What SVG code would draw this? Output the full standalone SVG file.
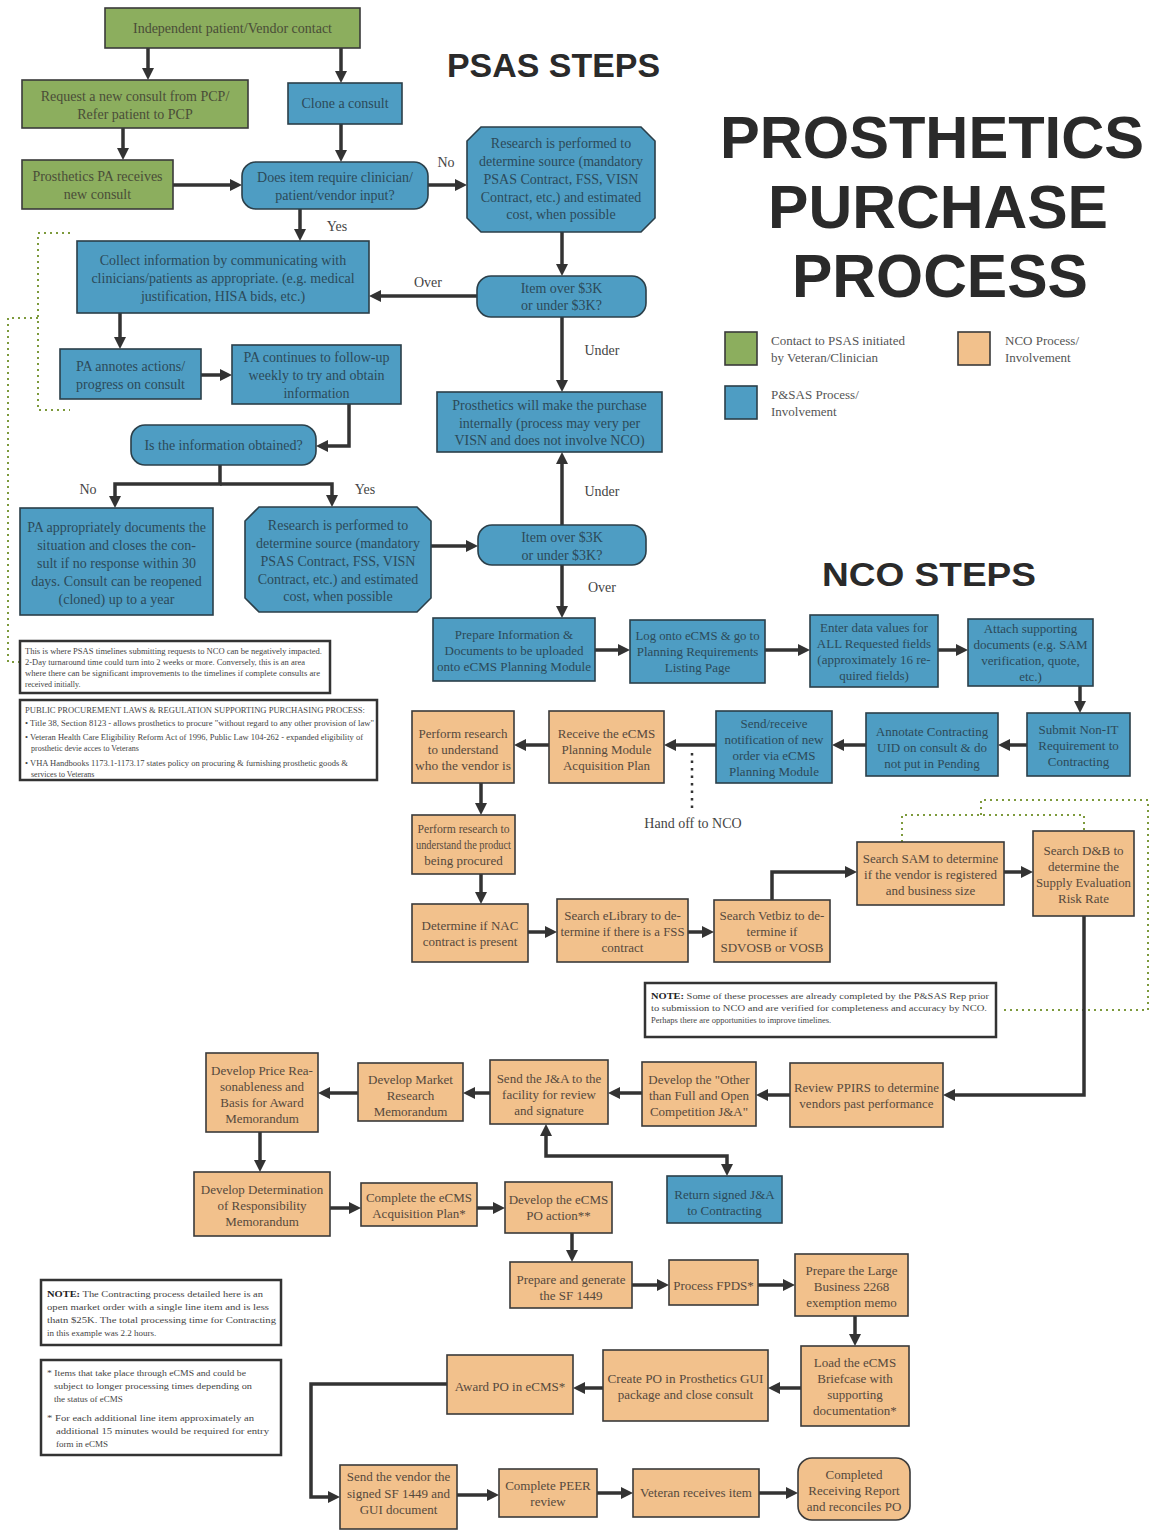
<svg xmlns="http://www.w3.org/2000/svg" width="1151" height="1532" viewBox="0 0 1151 1532">
<style>
.g{fill:#8CAE5E;stroke:#3a3a3a;stroke-width:1.6}
.b{fill:#4E9DC3;stroke:#2b3f49;stroke-width:1.6}
.t{fill:#F2C18C;stroke:#3a3a3a;stroke-width:1.6}
.ts{font-family:"Liberation Serif",serif;font-size:14px;text-anchor:middle}
.tn{font-family:"Liberation Serif",serif;font-size:13px;text-anchor:middle}
.cg{fill:#4a4d38}
.cb{fill:#2c4a59}
.ct{fill:#56493c}
.lbl{font-family:"Liberation Serif",serif;font-size:14px;fill:#444;text-anchor:middle}
.ttl{font-family:"Liberation Sans",Arial,sans-serif;font-weight:900;fill:#2a2a2a}
.note{fill:#fff;stroke:#333;stroke-width:2.5}
.nt{font-family:"Liberation Serif",serif;fill:#444}
.leg{font-family:"Liberation Serif",serif;font-size:13px;fill:#555}
.c{fill:none;stroke:#333;stroke-width:3.5;marker-end:url(#ah)}
.dot{fill:none;stroke:#7d9a3c;stroke-width:2;stroke-dasharray:2 4}
</style>
<defs>
<marker id="ah" viewBox="0 0 12 12" refX="8" refY="6" markerWidth="12" markerHeight="12" markerUnits="userSpaceOnUse" orient="auto-start-reverse"><path d="M0,0 L12,6 L0,12 z" fill="#333"/></marker>
</defs>
<rect width="1151" height="1532" fill="#fff"/>

<!-- Titles -->
<g id="titles">
<text class="ttl" x="447" y="77" font-size="33" textLength="213" lengthAdjust="spacingAndGlyphs">PSAS STEPS</text>
<text class="ttl" x="822" y="586" font-size="33" textLength="214" lengthAdjust="spacingAndGlyphs">NCO STEPS</text>
<text class="ttl" x="720" y="158" font-size="59" textLength="424" lengthAdjust="spacingAndGlyphs">PROSTHETICS</text>
<text class="ttl" x="768" y="228" font-size="61" textLength="340" lengthAdjust="spacingAndGlyphs">PURCHASE</text>
<text class="ttl" x="792" y="297" font-size="61" textLength="296" lengthAdjust="spacingAndGlyphs">PROCESS</text>
</g>

<!-- Legend -->
<g id="legend">
<rect class="g" x="725" y="332" width="32" height="33"/>
<text class="leg" x="771" y="345">Contact to PSAS initiated</text>
<text class="leg" x="771" y="362">by Veteran/Clinician</text>
<rect class="t" x="958" y="332" width="32" height="33"/>
<text class="leg" x="1005" y="345">NCO Process/</text>
<text class="leg" x="1005" y="362">Involvement</text>
<rect class="b" x="725" y="386" width="32" height="33"/>
<text class="leg" x="771" y="399">P&amp;SAS Process/</text>
<text class="leg" x="771" y="416">Involvement</text>
</g>

<!-- Annotation dotted lines -->
<g id="annotations">
<path class="dot" d="M70,233 H38 V410 H70"/>
<path class="dot" d="M38,318 H8 V662 H20"/>
<path class="dot" d="M981,815 V800 H1148 V1010 H1000"/>
<path class="dot" d="M902,842 V815 H1084 V831"/>
</g>

<!-- Connectors -->
<g id="connectors">
<path class="c" d="M148,48 V76"/>
<path class="c" d="M341,48 V79"/>
<path class="c" d="M123,128 V156"/>
<path class="c" d="M341,124 V158"/>
<path class="c" d="M173,185 H238"/>
<path class="c" d="M428,185 H463"/>
<path class="c" d="M562,232 V272"/>
<path class="c" d="M477,296 H373"/>
<path class="c" d="M562,317 V388"/>
<path class="c" d="M300,209 V237"/>
<path class="c" d="M120,313 V345"/>
<path class="c" d="M201,375 H228"/>
<path class="c" d="M349,404 V446 H320"/>
<path class="c" d="M220,465 V484 H115 V504"/>
<path class="c" d="M220,484 H332 V503"/>
<path class="c" d="M431,546 H474"/>
<path class="c" d="M562,525 V456"/>
<path class="c" d="M562,565 V614"/>

<path class="c" d="M595,650 H626"/>
<path class="c" d="M765,650 H806"/>
<path class="c" d="M938,650 H964"/>
<path class="c" d="M1080,686 V709"/>
<path class="c" d="M1027,745 H1002"/>
<path class="c" d="M866,745 H836"/>
<path class="c" d="M716,745 H668"/>
<path class="c" d="M549,745 H518"/>
<path d="M692,753 V812" fill="none" stroke="#333" stroke-width="2.5" stroke-dasharray="2.5 5"/>
<path class="c" d="M481,783 V811"/>
<path class="c" d="M481,874 V900"/>
<path class="c" d="M528,932 H553"/>
<path class="c" d="M688,932 H710"/>
<path class="c" d="M772,900 V872 H853"/>
<path class="c" d="M1004,872 H1029"/>
<path class="c" d="M1084,916 V1095 H947"/>
<path class="c" d="M790,1095 H760"/>
<path class="c" d="M642,1093 H612"/>
<path class="c" d="M490,1093 H467"/>
<path class="c" d="M358,1093 H322"/>
<path class="c" d="M260,1132 V1168"/>
<path class="c" d="M546,1128 V1156 H727 V1172" marker-start="url(#ah)"/>
<path class="c" d="M330,1208 H357"/>
<path class="c" d="M477,1208 H501"/>
<path class="c" d="M572,1233 V1258"/>
<path class="c" d="M632,1285 H665"/>
<path class="c" d="M758,1285 H791"/>
<path class="c" d="M855,1316 V1342"/>
<path class="c" d="M801,1388 H772"/>
<path class="c" d="M603,1388 H577"/>
<path class="c" d="M447,1384 H311 V1497 H336"/>
<path class="c" d="M457,1495 H495"/>
<path class="c" d="M597,1493 H629"/>
<path class="c" d="M759,1493 H794"/>
</g>

<!-- Connector labels -->
<g id="labels">
<text class="lbl" x="446" y="167">No</text>
<text class="lbl" x="337" y="231">Yes</text>
<text class="lbl" x="428" y="287">Over</text>
<text class="lbl" x="602" y="355">Under</text>
<text class="lbl" x="88" y="494">No</text>
<text class="lbl" x="365" y="494">Yes</text>
<text class="lbl" x="602" y="496">Under</text>
<text class="lbl" x="602" y="592">Over</text>
<text class="lbl" x="693" y="828" font-size="13">Hand off to NCO</text>
</g>

<!-- PSAS nodes -->
<g id="n1"><rect class="g" x="105" y="8" width="255" height="40"/><text class="ts cg" x="232.5" y="33">Independent patient/Vendor contact</text></g>
<g id="n2"><rect class="g" x="22" y="80" width="226" height="48"/><text class="ts cg" x="135" y="101">Request a new consult from PCP/</text><text class="ts cg" x="135" y="119">Refer patient to PCP</text></g>
<g id="n3"><rect class="b" x="288" y="83" width="114" height="41"/><text class="ts cb" x="345" y="108">Clone a consult</text></g>
<g id="n4"><rect class="g" x="22" y="160" width="151" height="49"/><text class="ts cg" x="97.5" y="181">Prosthetics PA receives</text><text class="ts cg" x="97.5" y="199">new consult</text></g>
<g id="n5"><rect class="b" x="242" y="162" width="186" height="47" rx="14"/><text class="ts cb" x="335" y="182">Does item require clinician/</text><text class="ts cb" x="335" y="200">patient/vendor input?</text></g>
<g id="n6"><polygon class="b" points="481,127 641,127 655,141 655,218 641,232 481,232 467,218 467,141"/>
<text class="ts cb" x="561" y="148">Research is performed to</text><text class="ts cb" x="561" y="166">determine source (mandatory</text><text class="ts cb" x="561" y="184">PSAS Contract, FSS, VISN</text><text class="ts cb" x="561" y="202">Contract, etc.) and estimated</text><text class="ts cb" x="561" y="219">cost, when possible</text></g>
<g id="n7"><rect class="b" x="477" y="276" width="169" height="41" rx="14"/><text class="ts cb" x="561.5" y="293">Item over $3K</text><text class="ts cb" x="561.5" y="310">or under $3K?</text></g>
<g id="n8"><rect class="b" x="437" y="392" width="225" height="60"/><text class="ts cb" x="549.5" y="410">Prosthetics will make the purchase</text><text class="ts cb" x="549.5" y="428">internally (process may very per</text><text class="ts cb" x="549.5" y="445">VISN and does not involve NCO)</text></g>
<g id="n9"><rect class="b" x="77" y="241" width="292" height="72"/><text class="ts cb" x="223" y="265">Collect information by communicating with</text><text class="ts cb" x="223" y="283">clinicians/patients as appropriate. (e.g. medical</text><text class="ts cb" x="223" y="301">justification, HISA bids, etc.)</text></g>
<g id="n10"><rect class="b" x="60" y="349" width="141" height="50"/><text class="ts cb" x="130.5" y="371">PA annotes actions/</text><text class="ts cb" x="130.5" y="389">progress on consult</text></g>
<g id="n11"><rect class="b" x="232" y="345" width="169" height="59"/><text class="ts cb" x="316.5" y="362">PA continues to follow-up</text><text class="ts cb" x="316.5" y="380">weekly to try and obtain</text><text class="ts cb" x="316.5" y="398">information</text></g>
<g id="n12"><rect class="b" x="131" y="425" width="185" height="40" rx="14"/><text class="ts cb" x="223.5" y="450">Is the information obtained?</text></g>
<g id="n13"><rect class="b" x="20" y="508" width="193" height="107"/><text class="ts cb" x="116.5" y="532">PA appropriately documents the</text><text class="ts cb" x="116.5" y="550">situation and closes the con-</text><text class="ts cb" x="116.5" y="568">sult if no response within 30</text><text class="ts cb" x="116.5" y="586">days. Consult can be reopened</text><text class="ts cb" x="116.5" y="604">(cloned) up to a year</text></g>
<g id="n14"><polygon class="b" points="259,507 417,507 431,521 431,598 417,612 259,612 245,598 245,521"/>
<text class="ts cb" x="338" y="530">Research is performed to</text><text class="ts cb" x="338" y="548">determine source (mandatory</text><text class="ts cb" x="338" y="566">PSAS Contract, FSS, VISN</text><text class="ts cb" x="338" y="584">Contract, etc.) and estimated</text><text class="ts cb" x="338" y="601">cost, when possible</text></g>
<g id="n15"><rect class="b" x="478" y="525" width="168" height="40" rx="14"/><text class="ts cb" x="562" y="542">Item over $3K</text><text class="ts cb" x="562" y="560">or under $3K?</text></g>

<!-- NCO nodes -->
<g id="n16"><rect class="b" x="433" y="618" width="162" height="63"/><text class="tn cb" x="514" y="639">Prepare Information &amp;</text><text class="tn cb" x="514" y="655">Documents to be uploaded</text><text class="tn cb" x="514" y="671" textLength="154" lengthAdjust="spacingAndGlyphs">onto eCMS Planning Module</text></g>
<g id="n17"><rect class="b" x="630" y="620" width="135" height="63"/><text class="tn cb" x="697.5" y="640" textLength="124" lengthAdjust="spacingAndGlyphs">Log onto eCMS &amp; go to</text><text class="tn cb" x="697.5" y="656">Planning Requirements</text><text class="tn cb" x="697.5" y="672">Listing Page</text></g>
<g id="n18"><rect class="b" x="810" y="615" width="128" height="72"/><text class="tn cb" x="874" y="632">Enter data values for</text><text class="tn cb" x="874" y="648">ALL Requested fields</text><text class="tn cb" x="874" y="664">(approximately 16 re-</text><text class="tn cb" x="874" y="680">quired fields)</text></g>
<g id="n19"><rect class="b" x="968" y="619" width="125" height="67"/><text class="tn cb" x="1030.5" y="633">Attach supporting</text><text class="tn cb" x="1030.5" y="649">documents (e.g. SAM</text><text class="tn cb" x="1030.5" y="665">verification, quote,</text><text class="tn cb" x="1030.5" y="681">etc.)</text></g>
<g id="n20"><rect class="b" x="1027" y="713" width="103" height="63"/><text class="tn cb" x="1078.5" y="734">Submit Non-IT</text><text class="tn cb" x="1078.5" y="750">Requirement to</text><text class="tn cb" x="1078.5" y="766">Contracting</text></g>
<g id="n21"><rect class="b" x="866" y="713" width="132" height="63"/><text class="tn cb" x="932" y="736">Annotate Contracting</text><text class="tn cb" x="932" y="752">UID on consult &amp; do</text><text class="tn cb" x="932" y="768">not put in Pending</text></g>
<g id="n22"><rect class="b" x="716" y="711" width="116" height="72"/><text class="tn cb" x="774" y="728">Send/receive</text><text class="tn cb" x="774" y="744">notification of new</text><text class="tn cb" x="774" y="760">order via eCMS</text><text class="tn cb" x="774" y="776">Planning Module</text></g>
<g id="n23"><rect class="t" x="549" y="711" width="115" height="72"/><text class="tn ct" x="606.5" y="738">Receive the eCMS</text><text class="tn ct" x="606.5" y="754">Planning Module</text><text class="tn ct" x="606.5" y="770">Acquisition Plan</text></g>
<g id="n24"><rect class="t" x="412" y="711" width="102" height="72"/><text class="tn ct" x="463" y="738">Perform research</text><text class="tn ct" x="463" y="754">to understand</text><text class="tn ct" x="463" y="770" textLength="96" lengthAdjust="spacingAndGlyphs">who the vendor is</text></g>
<g id="n25"><rect class="t" x="412" y="815" width="103" height="59"/><text class="tn ct" x="463.5" y="833" textLength="92" lengthAdjust="spacingAndGlyphs">Perform research to</text><text class="tn ct" x="463.5" y="849" textLength="95" lengthAdjust="spacingAndGlyphs">understand the product</text><text class="tn ct" x="463.5" y="865">being procured</text></g>
<g id="n26"><rect class="t" x="412" y="904" width="116" height="58"/><text class="tn ct" x="470" y="930">Determine if NAC</text><text class="tn ct" x="470" y="946">contract is present</text></g>
<g id="n27"><rect class="t" x="557" y="899" width="131" height="63"/><text class="tn ct" x="622.5" y="920">Search eLibrary to de-</text><text class="tn ct" x="622.5" y="936" textLength="124" lengthAdjust="spacingAndGlyphs">termine if there is a FSS</text><text class="tn ct" x="622.5" y="952">contract</text></g>
<g id="n28"><rect class="t" x="714" y="900" width="116" height="62"/><text class="tn ct" x="772" y="920">Search Vetbiz to de-</text><text class="tn ct" x="772" y="936">termine if</text><text class="tn ct" x="772" y="952">SDVOSB or VOSB</text></g>
<g id="n29"><rect class="t" x="857" y="842" width="147" height="63"/><text class="tn ct" x="930.5" y="863">Search SAM to determine</text><text class="tn ct" x="930.5" y="879">if the vendor is registered</text><text class="tn ct" x="930.5" y="895">and business size</text></g>
<g id="n30"><rect class="t" x="1033" y="831" width="101" height="85"/><text class="tn ct" x="1083.5" y="855">Search D&amp;B to</text><text class="tn ct" x="1083.5" y="871">determine the</text><text class="tn ct" x="1083.5" y="887" textLength="95" lengthAdjust="spacingAndGlyphs">Supply Evaluation</text><text class="tn ct" x="1083.5" y="903">Risk Rate</text></g>
<g id="n31"><rect class="t" x="790" y="1063" width="153" height="64"/><text class="tn ct" x="866.5" y="1092" textLength="145" lengthAdjust="spacingAndGlyphs">Review PPIRS to determine</text><text class="tn ct" x="866.5" y="1108">vendors past performance</text></g>
<g id="n32"><rect class="t" x="642" y="1062" width="114" height="64"/><text class="tn ct" x="699" y="1084">Develop the "Other</text><text class="tn ct" x="699" y="1100">than Full and Open</text><text class="tn ct" x="699" y="1116">Competition J&amp;A"</text></g>
<g id="n33"><rect class="t" x="490" y="1060" width="118" height="64"/><text class="tn ct" x="549" y="1083">Send the J&amp;A to the</text><text class="tn ct" x="549" y="1099">facility for review</text><text class="tn ct" x="549" y="1115">and signature</text></g>
<g id="n34"><rect class="t" x="358" y="1063" width="105" height="58"/><text class="tn ct" x="410.5" y="1084">Develop Market</text><text class="tn ct" x="410.5" y="1100">Research</text><text class="tn ct" x="410.5" y="1116">Memorandum</text></g>
<g id="n35"><rect class="t" x="206" y="1053" width="112" height="79"/><text class="tn ct" x="262" y="1075">Develop Price Rea-</text><text class="tn ct" x="262" y="1091">sonableness and</text><text class="tn ct" x="262" y="1107">Basis for Award</text><text class="tn ct" x="262" y="1123">Memorandum</text></g>
<g id="n36"><rect class="t" x="194" y="1172" width="136" height="64"/><text class="tn ct" x="262" y="1194">Develop Determination</text><text class="tn ct" x="262" y="1210">of Responsibility</text><text class="tn ct" x="262" y="1226">Memorandum</text></g>
<g id="n37"><rect class="t" x="361" y="1183" width="116" height="43"/><text class="tn ct" x="419" y="1202">Complete the eCMS</text><text class="tn ct" x="419" y="1218">Acquisition Plan*</text></g>
<g id="n38"><rect class="t" x="505" y="1182" width="107" height="51"/><text class="tn ct" x="558.5" y="1204">Develop the eCMS</text><text class="tn ct" x="558.5" y="1220">PO action**</text></g>
<g id="n39"><rect class="b" x="667" y="1176" width="115" height="47"/><text class="tn cb" x="724.5" y="1199">Return signed J&amp;A</text><text class="tn cb" x="724.5" y="1215">to Contracting</text></g>
<g id="n40"><rect class="t" x="510" y="1262" width="122" height="46"/><text class="tn ct" x="571" y="1284">Prepare and generate</text><text class="tn ct" x="571" y="1300">the SF 1449</text></g>
<g id="n41"><rect class="t" x="669" y="1260" width="89" height="45"/><text class="tn ct" x="713.5" y="1290">Process FPDS*</text></g>
<g id="n42"><rect class="t" x="795" y="1254" width="113" height="62"/><text class="tn ct" x="851.5" y="1275">Prepare the Large</text><text class="tn ct" x="851.5" y="1291">Business 2268</text><text class="tn ct" x="851.5" y="1307">exemption memo</text></g>
<g id="n43"><rect class="t" x="801" y="1346" width="108" height="80"/><text class="tn ct" x="855" y="1367">Load the eCMS</text><text class="tn ct" x="855" y="1383">Briefcase with</text><text class="tn ct" x="855" y="1399">supporting</text><text class="tn ct" x="855" y="1415">documentation*</text></g>
<g id="n44"><rect class="t" x="603" y="1350" width="165" height="71"/><text class="tn ct" x="685.5" y="1383" textLength="156" lengthAdjust="spacingAndGlyphs">Create PO in Prosthetics GUI</text><text class="tn ct" x="685.5" y="1399">package and close consult</text></g>
<g id="n45"><rect class="t" x="447" y="1355" width="126" height="59"/><text class="tn ct" x="510" y="1391">Award PO in eCMS*</text></g>
<g id="n46"><rect class="t" x="340" y="1465" width="117" height="64"/><text class="tn ct" x="398.5" y="1481">Send the vendor the</text><text class="tn ct" x="398.5" y="1498">signed SF 1449 and</text><text class="tn ct" x="398.5" y="1514">GUI document</text></g>
<g id="n47"><rect class="t" x="499" y="1469" width="98" height="48"/><text class="tn ct" x="548" y="1490">Complete PEER</text><text class="tn ct" x="548" y="1506">review</text></g>
<g id="n48"><rect class="t" x="633" y="1469" width="126" height="48"/><text class="tn ct" x="696" y="1497">Veteran receives item</text></g>
<g id="n49"><rect class="t" x="798" y="1458" width="112" height="62" rx="14"/><text class="tn ct" x="854" y="1479">Completed</text><text class="tn ct" x="854" y="1495">Receiving Report</text><text class="tn ct" x="854" y="1511">and reconciles PO</text></g>

<!-- Notes -->
<g id="note1"><rect class="note" x="20" y="641" width="310" height="52"/>
<text class="nt" font-size="8" x="25" y="654" textLength="297" lengthAdjust="spacingAndGlyphs">This is where PSAS timelines submitting requests to NCO can be negatively impacted.</text>
<text class="nt" font-size="8" x="25" y="665" textLength="280" lengthAdjust="spacingAndGlyphs">2-Day turnaround time could turn into 2 weeks or more. Conversely, this is an area</text>
<text class="nt" font-size="8" x="25" y="676" textLength="295" lengthAdjust="spacingAndGlyphs">where there can be significant improvements to the timelines if complete consults are</text>
<text class="nt" font-size="8" x="25" y="687">received initially.</text></g>
<g id="note2"><rect class="note" x="20" y="700" width="357" height="80"/>
<text class="nt" font-size="8" x="25" y="713" textLength="340" lengthAdjust="spacingAndGlyphs">PUBLIC PROCUREMENT LAWS &amp; REGULATION SUPPORTING PURCHASING PROCESS:</text>
<text class="nt" font-size="8" x="25" y="726" textLength="349" lengthAdjust="spacingAndGlyphs">• Title 38, Section 8123 - allows prosthetics to procure "without regard to any other provision of law"</text>
<text class="nt" font-size="8" x="25" y="740" textLength="338" lengthAdjust="spacingAndGlyphs">• Veteran Health Care Eligibility Reform Act of 1996, Public Law 104-262 - expanded eligibility of</text>
<text class="nt" font-size="8" x="31" y="751">prosthetic devie acces to Veterans</text>
<text class="nt" font-size="8" x="25" y="766" textLength="323" lengthAdjust="spacingAndGlyphs">• VHA Handbooks 1173.1-1173.17 states policy on procuring &amp; furnishing prosthetic goods &amp;</text>
<text class="nt" font-size="8" x="31" y="777">services to Veterans</text></g>
<g id="note3"><rect class="note" x="645" y="983" width="351" height="54"/>
<text class="nt" font-size="8.5" x="651" y="999" textLength="338" lengthAdjust="spacingAndGlyphs"><tspan font-weight="bold" fill="#222">NOTE:</tspan> Some of these processes are  already completed by the P&amp;SAS Rep prior</text>
<text class="nt" font-size="8.5" x="651" y="1011" textLength="336" lengthAdjust="spacingAndGlyphs">to submission to NCO and are verified for completeness and accuracy by NCO.</text>
<text class="nt" font-size="8.5" x="651" y="1023">Perhaps there are opportunities to improve timelines.</text></g>
<g id="note4"><rect class="note" x="41" y="1280" width="240" height="65"/>
<text class="nt" font-size="9" x="47" y="1297" textLength="216" lengthAdjust="spacingAndGlyphs"><tspan font-weight="bold" fill="#222">NOTE:</tspan> The Contracting process detailed here is an</text>
<text class="nt" font-size="9" x="47" y="1310" textLength="222" lengthAdjust="spacingAndGlyphs">open market order with a single line item and is less</text>
<text class="nt" font-size="9" x="47" y="1323" textLength="229" lengthAdjust="spacingAndGlyphs">thatn $25K. The total processing time for Contracting</text>
<text class="nt" font-size="9" x="47" y="1336">in this example was 2.2 hours.</text></g>
<g id="note5"><rect class="note" x="41" y="1360" width="240" height="95"/>
<text class="nt" font-size="9" x="47" y="1376" textLength="199" lengthAdjust="spacingAndGlyphs">* Items that take place through eCMS and could be</text>
<text class="nt" font-size="9" x="54" y="1389" textLength="198" lengthAdjust="spacingAndGlyphs">subject to longer processing times depending on</text>
<text class="nt" font-size="9" x="54" y="1402">the status of eCMS</text>
<text class="nt" font-size="9" x="47" y="1421" textLength="207" lengthAdjust="spacingAndGlyphs">* For each additional line item approximately an</text>
<text class="nt" font-size="9" x="56" y="1434" textLength="213" lengthAdjust="spacingAndGlyphs">additional 15 minutes would be required for entry</text>
<text class="nt" font-size="9" x="56" y="1447">form in eCMS</text></g>
</svg>
